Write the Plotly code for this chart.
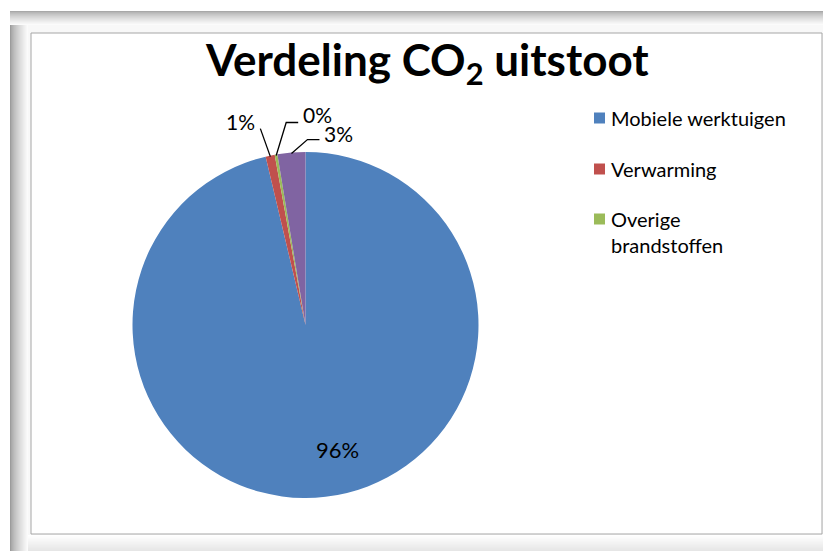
import math
import plotly.graph_objects as go

# ---------------- data ----------------
categories = ["Mobiele werktuigen", "Verwarming", "Overige brandstoffen", "Elektriciteit"]
values = [96.3, 0.85, 0.25, 2.6]
colors = ["#4F81BD", "#C0504D", "#9BBB59", "#8064A2"]
legend_shown = 3  # only the first three entries are visible in the legend

# page is rendered with the default 8px body margin, so the figure is offset
OFF = 8
PW, PH = 831, 551
W, H = PW - OFF, PH - OFF
FONT = "Lato"

def px(x):
    return (x - OFF) / W

def py(y):
    return 1 - (y - OFF) / H

# pie geometry (page pixel space)
CX, CY, R = 305.5, 325.0, 173.0

total = sum(values)
pct_text = [f"{round(v / total * 100)}%" for v in values]

fig = go.Figure()
fig.add_trace(go.Pie(
    labels=categories,
    values=values,
    sort=False,
    direction="clockwise",
    rotation=0,
    marker=dict(colors=colors, line=dict(width=0)),
    textinfo="none",
    hoverinfo="label+percent",
    showlegend=False,
    domain=dict(x=[px(CX - R), px(CX + R)], y=[py(CY + R), py(CY - R)]),
))

shapes = []
annotations = []

# ---------- frame (Excel chart-area look) ----------
def hexmix(c1, c2, t):
    a = [int(c1[i:i + 2], 16) for i in (1, 3, 5)]
    b = [int(c2[i:i + 2], 16) for i in (1, 3, 5)]
    m = [round(a[k] + (b[k] - a[k]) * t) for k in range(3)]
    return "#%02x%02x%02x" % tuple(m)

def rect(x0, y0, x1, y1, fill, line=None, lw=0):
    shapes.append(dict(type="rect", xref="paper", yref="paper",
                       x0=px(x0), x1=px(x1), y0=py(y1), y1=py(y0),
                       fillcolor=fill, line=dict(width=lw, color=line or fill),
                       layer="below"))

# base light band
rect(10, 11, 831, 551, "#f8f8f8")
# left shadow gradient
n = 18
for i in range(n):
    t = i / (n - 1)
    rect(10 + i, 11, 11 + i, 551, hexmix("#9c9c9c", "#fbfbfb", t ** 0.7))
# top shadow gradient
n = 14
for i in range(n):
    t = i / (n - 1)
    rect(10, 11 + i, 831, 12 + i, hexmix("#a8a8a8", "#fbfbfb", t ** 0.7))
# bottom band
n = 16
for i in range(n):
    t = i / (n - 1)
    rect(28, 535 + i, 831, 536 + i, hexmix("#ffffff", "#e6e6e6", t))
# right band
rect(822, 33, 831, 535, "#f6f6f6")
# inner chart area
rect(31, 33, 822, 534, "#ffffff", "#a6a6a6", 1)

# ---------- title ----------
annotations.append(dict(
    x=px(427), y=py(63), xref="paper", yref="paper",
    text="<b>Verdeling CO<sub>2</sub> uitstoot</b>",
    showarrow=False, xanchor="center", yanchor="middle",
    font=dict(family=FONT, size=44, color="#000000"),
))

# ---------- slice geometry from data ----------
cum = 0.0
mids = []
for v in values:
    f0 = cum / total
    cum += v
    f1 = cum / total
    mids.append((f0 + f1) / 2 * 2 * math.pi)

def on_circle(theta, rr):
    return CX + rr * math.sin(theta), CY - rr * math.cos(theta)

# big slice label inside
bx, by = on_circle(mids[0], 0.75 * R)
annotations.append(dict(
    x=px(bx + 17), y=py(by - 4), xref="paper", yref="paper",
    text=pct_text[0], showarrow=False, xanchor="center", yanchor="middle",
    font=dict(family=FONT, size=22, color="#000000"),
))

# outside labels with leader lines: (elbow offset, horizontal length, label offset from line end)
leaders = {
    1: ((-10, -28), 0, (-20, -7)),
    2: ((10, -33), 12, (19, -8)),
    3: ((16, -14), 12, (19, -6)),
}
for idx, (eoff, hlen, loff) in leaders.items():
    ax_, ay_ = on_circle(mids[idx], R - 1)
    ex, ey = ax_ + eoff[0], ay_ + eoff[1]
    hx, hy = ex + hlen, ey
    path = f"M {px(ax_)} {py(ay_)} L {px(ex)} {py(ey)} L {px(hx)} {py(hy)}"
    shapes.append(dict(type="path", xref="paper", yref="paper", path=path,
                       line=dict(color="#000000", width=1.3), layer="above"))
    annotations.append(dict(
        x=px(hx + loff[0]), y=py(hy + loff[1]), xref="paper", yref="paper",
        text=pct_text[idx], showarrow=False, xanchor="center", yanchor="middle",
        font=dict(family=FONT, size=21, color="#000000"),
    ))

# ---------- legend (manual) ----------
leg_y = [118, 169, 231.5]
leg_text = ["Mobiele werktuigen", "Verwarming", "Overige<br>brandstoffen"]
sq_y = [118, 169, 219]
for i in range(legend_shown):
    shapes.append(dict(type="rect", xref="paper", yref="paper",
                       x0=px(594), x1=px(605), y0=py(sq_y[i] + 5.5), y1=py(sq_y[i] - 5.5),
                       fillcolor=colors[i], line=dict(width=0)))
    annotations.append(dict(
        x=px(609), y=py(leg_y[i]), xref="paper", yref="paper",
        text=leg_text[i], showarrow=False, xanchor="left", yanchor="middle",
        align="left",
        font=dict(family=FONT, size=20, color="#000000"),
    ))

fig.update_layout(
    width=W, height=H,
    margin=dict(l=0, r=0, t=0, b=0),
    paper_bgcolor="#ffffff",
    plot_bgcolor="#ffffff",
    shapes=shapes,
    annotations=annotations,
    showlegend=False,
)

fig.write_html("out.html")
